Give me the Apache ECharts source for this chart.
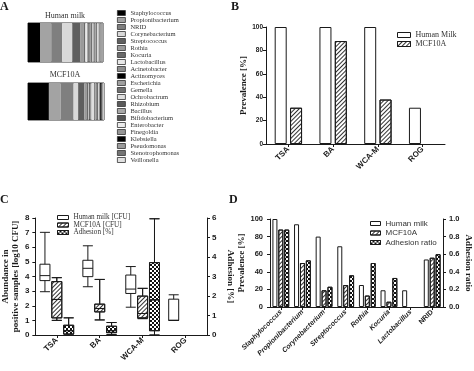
<!DOCTYPE html>
<html><head><meta charset="utf-8">
<script src="https://cdn.jsdelivr.net/npm/echarts@6/dist/echarts.min.js"></script>
<style>html,body{margin:0;padding:0;background:#fff}#c{width:474px;height:371px}</style>
</head><body><div id="c"></div><script>
// ---- Panel A: relative abundance (%) ----
const genera = ['Staphylococcus','Propionibacterium','NRID','Corynebacterium','Streptococcus','Rothia','Kocuria','Lactobacillus','Acinetobacter','Actinomyces','Escherichia','Gemella','Ochrobactrum','Rhizobium','Bacillus','Bifidobacterium','Enterobacter','Finegoldia','Klebsiella','Pseudomonas','Stenotrophomonas','Veillonella'];
const abundanceMilk = [16,15,14.5,13.5,10.5,5,2,2.5,2,1,2,2,1.5,1.5,2,1.5,1.5,2,0.5,2,1,1];
const abundanceMcf = [27.5,15.5,17,6,8,3,2.5,0.5,1,1,0.5,1,3.5,1,2,2,1,2,2,1,1,1];
// ---- Panel B: prevalence [%] per medium ----
const mediaB = ['TSA','BA','WCA-M','ROG'];
const prevMilkB = [100,100,100,31];
const prevMcfB = [31,88,38,null];
// ---- Panel C: boxplots [min, Q1, median, Q3, max] ----
const mediaC = ['TSA','BA','WCA-M','ROG'];
const boxMilkC = [[2.96,3.72,4.06,4.84,7.02],[3.3,3.99,4.56,5.11,6.1],[1.9,2.84,3.14,4.1,4.68],[1.0,1.0,1.0,2.45,2.75]];
const boxMcfC = [[1.0,1.17,2.43,3.65,3.92],[1.03,1.58,1.81,2.11,3.8],[1.12,1.17,1.47,2.66,3.19]];
const boxAdhC = [[0,0.05,0.22,0.5,0.88],[0.02,0.12,0.22,0.45,0.64],[0,0.22,1.8,3.71,5.96]];
// ---- Panel D: prevalence per genus & adhesion ratio ----
const generaD = ['Staphylococcus','Propionibacterium','Corynebacterium','Streptococcus','Rothia','Kocuria','Lactobacillus','NRID'];
const prevMilkD = [100,94,80,69,25,19,19,54];
const prevMcfD = [88,50,19,25,13,6,null,56];
const adhRatioD = [0.88,0.53,0.23,0.36,0.5,0.33,null,0.6];

const greysA = ['#000','#a3a3a3','#7f7f7f','#d9d9d9','#5f5f5f','#9a9a9a','#6a6a6a','#e8e8e8','#8e8e8e','#000','#a0a0a0','#707070','#dedede','#5a5a5a','#a8a8a8','#555','#ececec','#959595','#000','#9c9c9c','#747474','#e0e0e0'];
const SERIF = '"Liberation Serif", "DejaVu Serif", serif';
const SANS = '"Liberation Sans", Arial, sans-serif';
const INK = '#1a1a1a';
const hatch = {symbol:'rect', symbolSize:1, color:'#333', dashArrayX:[1,0], dashArrayY:[1,1.6], rotation:-Math.PI/4};
const checker = {symbol:'rect', symbolSize:1, color:'#111', dashArrayX:[[2,2],[0,2,2,0]], dashArrayY:[2,0], rotation:0};

const axisLineS = {show:true, lineStyle:{color:INK, width:1}};
const tickS = {show:true, length:3, lineStyle:{color:INK, width:1}};
const plainStyle = {color:'#fff', borderColor:INK, borderWidth:1};
const hatchStyle = {color:'#fff', borderColor:INK, borderWidth:1, decal:hatch};
const checkStyle = {color:'#fff', borderColor:INK, borderWidth:1, decal:checker};

const series = [];
genera.forEach((g,i)=>{
  series.push({type:'bar', name:g, xAxisIndex:0, yAxisIndex:0, stack:'hm', barWidth:'100%', data:[abundanceMilk[i]], itemStyle:{color:greysA[i]}, silent:true});
  series.push({type:'bar', name:g, xAxisIndex:1, yAxisIndex:1, stack:'mcf', barWidth:'100%', data:[abundanceMcf[i]], itemStyle:{color:greysA[i]}, silent:true});
});
// B
series.push({type:'bar', name:'Human Milk', xAxisIndex:2, yAxisIndex:2, data:prevMilkB, barWidth:12, barGap:'28%', itemStyle:plainStyle});
series.push({type:'bar', name:'MCF10A', xAxisIndex:2, yAxisIndex:2, data:prevMcfB, barWidth:12, barGap:'28%', itemStyle:hatchStyle});
// C
series.push({type:'boxplot', name:'Human milk [CFU]', xAxisIndex:3, yAxisIndex:3, data:boxMilkC, boxWidth:[10,10], itemStyle:plainStyle});
series.push({type:'boxplot', name:'MCF10A [CFU]', xAxisIndex:3, yAxisIndex:3, data:boxMcfC, boxWidth:[10,10], itemStyle:hatchStyle});
series.push({type:'boxplot', name:'Adhesion [%]', xAxisIndex:3, yAxisIndex:4, data:boxAdhC, boxWidth:[10,10], itemStyle:checkStyle});
// D
series.push({type:'bar', name:'Human milk', xAxisIndex:4, yAxisIndex:5, data:prevMilkD, barWidth:5, barGap:'18%', itemStyle:plainStyle});
series.push({type:'bar', name:'MCF10A ', xAxisIndex:4, yAxisIndex:5, data:prevMcfD, barWidth:5, barGap:'18%', itemStyle:hatchStyle});
series.push({type:'bar', name:'Adhesion ratio', xAxisIndex:4, yAxisIndex:6, data:adhRatioD, barWidth:5, barGap:'18%', itemStyle:checkStyle});

const hidden = {show:false};
const option = {
  animation:false,
  backgroundColor:'#fff',
  grid:[
    {left:28, top:23, width:75, height:39, show:true, borderColor:'#333', borderWidth:1, backgroundColor:'transparent'},
    {left:28, top:83, width:76, height:37, show:true, borderColor:'#333', borderWidth:1, backgroundColor:'transparent'},
    {left:266, top:27, width:179, height:117},
    {left:33, top:218, width:174, height:117},
    {left:270, top:219, width:174, height:88}
  ],
  xAxis:[
    {gridIndex:0, type:'value', min:0, max:100, show:false},
    {gridIndex:1, type:'value', min:0, max:100, show:false},
    {gridIndex:2, type:'category', data:mediaB, axisLine:axisLineS, axisTick:Object.assign({alignWithLabel:true}, tickS),
      axisLabel:{rotate:45, margin:4, interval:0, fontSize:8, fontWeight:'bold', fontFamily:SANS, color:INK}},
    {gridIndex:3, type:'category', data:mediaC, axisLine:axisLineS, axisTick:Object.assign({alignWithLabel:true}, tickS),
      axisLabel:{rotate:45, margin:4, interval:0, fontSize:8, fontWeight:'bold', fontFamily:SANS, color:INK}},
    {gridIndex:4, type:'category', data:generaD, axisLine:axisLineS, axisTick:Object.assign({alignWithLabel:true}, tickS),
      axisLabel:{rotate:45, margin:4, interval:0, hideOverlap:false, color:INK, formatter:v=> v==='NRID' ? '{n|'+v+'}' : '{i|'+v+'}',
        rich:{i:{fontSize:7, fontWeight:'bold', fontStyle:'italic', fontFamily:SANS, color:INK}, n:{fontSize:7, fontWeight:'bold', fontFamily:SANS, color:INK}}}}
  ],
  yAxis:[
    {gridIndex:0, type:'category', data:['Human milk'], show:false},
    {gridIndex:1, type:'category', data:['MCF10A'], show:false},
    {gridIndex:2, type:'value', min:0, max:100, interval:20, axisLine:axisLineS, axisTick:tickS, splitLine:hidden,
      axisLabel:{margin:3, fontSize:6.5, fontWeight:'bold', fontFamily:SANS, color:INK},
      name:'Prevalence [%]', nameLocation:'middle', nameGap:17, nameTextStyle:{fontSize:9, fontWeight:'bold', fontFamily:SERIF, color:INK}},
    {gridIndex:3, type:'value', min:0, max:8, interval:1, axisLine:axisLineS, axisTick:tickS, splitLine:hidden,
      axisLabel:{margin:6, fontSize:8, fontWeight:'bold', fontFamily:SANS, color:INK},
      name:'Abundance in\npositive samples [log10 CFU]', nameLocation:'middle', nameGap:13,
      nameTextStyle:{fontSize:9, lineHeight:10, fontWeight:'bold', fontFamily:SERIF, color:INK}},
    {gridIndex:3, type:'value', position:'right', min:0, max:6, interval:1, axisLine:axisLineS, axisTick:tickS, splitLine:hidden,
      axisLabel:{margin:5, fontSize:8, fontWeight:'bold', fontFamily:SANS, color:INK},
      name:'Adhesion [%]', nameLocation:'middle', nameGap:19, nameRotate:-90, nameTextStyle:{fontSize:9, fontWeight:'bold', fontFamily:SERIF, color:INK}},
    {gridIndex:4, type:'value', min:0, max:100, interval:20, axisLine:axisLineS, axisTick:tickS, splitLine:hidden,
      axisLabel:{margin:7, fontSize:7.5, fontWeight:'bold', fontFamily:SANS, color:INK},
      name:'Prevalence [%]', nameLocation:'middle', nameGap:23, nameTextStyle:{fontSize:9, fontWeight:'bold', fontFamily:SERIF, color:INK}},
    {gridIndex:4, type:'value', position:'right', min:0, max:1, interval:0.2, axisLine:axisLineS, axisTick:tickS, splitLine:hidden,
      axisLabel:{margin:6, fontSize:7.5, fontWeight:'bold', fontFamily:SANS, color:INK, formatter:v=>v.toFixed(1)},
      name:'Adhesion ratio', nameLocation:'middle', nameGap:21, nameRotate:-90, nameTextStyle:{fontSize:9, fontWeight:'bold', fontFamily:SERIF, color:INK}}
  ],
  legend:[
    {data:genera, orient:'vertical', left:117, top:9.5, itemWidth:8, itemHeight:5, itemGap:0, icon:'rect', selectedMode:false,
      itemStyle:{borderColor:'#333', borderWidth:0.8}, textStyle:{fontSize:6.5, lineHeight:7, fontFamily:SERIF, color:'#333', padding:0}, padding:0},
    {data:[{name:'Human Milk', itemStyle:plainStyle},{name:'MCF10A', itemStyle:hatchStyle}], orient:'vertical', left:397, top:31, itemWidth:13, itemHeight:5, itemGap:1, icon:'rect', selectedMode:false, padding:0,
      textStyle:{fontSize:8, fontFamily:SERIF, color:'#333'}},
    {data:[{name:'Human milk [CFU]', itemStyle:plainStyle},{name:'MCF10A [CFU]', itemStyle:hatchStyle},{name:'Adhesion [%]', itemStyle:checkStyle}],
      orient:'vertical', left:57, top:214, itemWidth:11, itemHeight:4, itemGap:0.5, icon:'rect', selectedMode:false, padding:0,
      textStyle:{fontSize:7.2, fontFamily:SERIF, color:'#333'}},
    {data:[{name:'Human milk', itemStyle:plainStyle},{name:'MCF10A ', itemStyle:hatchStyle},{name:'Adhesion ratio', itemStyle:checkStyle}],
      orient:'vertical', left:370, top:219.5, itemWidth:10, itemHeight:4, itemGap:1.5, icon:'rect', selectedMode:false, padding:0,
      textStyle:{fontSize:8, fontFamily:SANS, color:'#333'}}
  ],
  graphic:[
    {type:'text', left:0, top:1, style:{text:'A', font:'bold 12px '+SERIF, fill:INK}},
    {type:'text', left:231, top:1, style:{text:'B', font:'bold 12px '+SERIF, fill:INK}},
    {type:'text', left:0, top:194, style:{text:'C', font:'bold 12px '+SERIF, fill:INK}},
    {type:'text', left:229, top:194, style:{text:'D', font:'bold 12px '+SERIF, fill:INK}},
    {type:'text', x:65, y:15.5, style:{text:'Human milk', font:'8px '+SERIF, fill:'#333', align:'center', verticalAlign:'middle'}},
    {type:'text', x:65, y:75, style:{text:'MCF10A', font:'8px '+SERIF, fill:'#333', align:'center', verticalAlign:'middle'}}
  ],
  series:series
};
const chart = echarts.init(document.getElementById('c'), null, {renderer:'canvas'});
chart.setOption(option);
</script></body></html>
